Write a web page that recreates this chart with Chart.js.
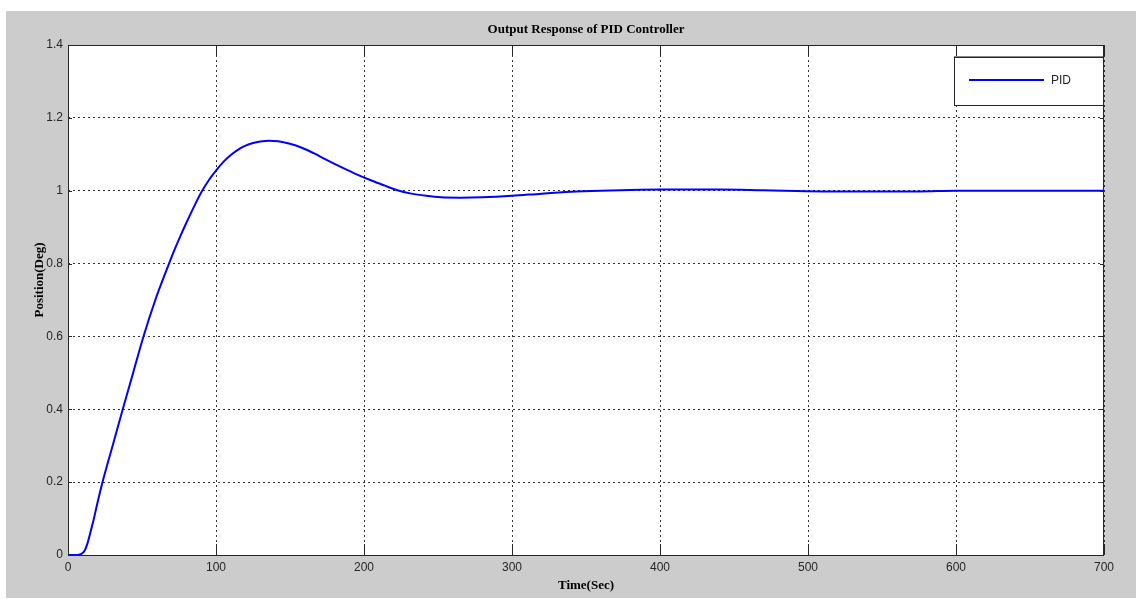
<!DOCTYPE html>
<html>
<head>
<meta charset="utf-8">
<script src="https://cdn.jsdelivr.net/npm/chart.js@4/dist/chart.umd.min.js"></script>
<style>
  html, body { margin: 0; padding: 0; background: #ffffff; }
  canvas { display: block; }
</style>
</head>
<body>
<canvas id="pid" width="1136" height="599"></canvas>
<script>
// step response
const timeSec = [0, 6, 9, 11, 13, 15, 17.8, 20, 23, 30, 37, 44, 51, 59, 64, 68, 72, 76, 80, 85, 90, 95, 100,
  105, 110, 115, 120, 125, 130, 136, 142, 150, 158, 166, 175, 185, 195, 205, 214, 222, 232, 242, 252, 265, 280,
  300, 320, 340, 360, 380, 400, 440, 470, 510, 575, 600, 650, 700];
const positionDeg = [0, 0, 0.003, 0.01, 0.03, 0.06, 0.105, 0.145, 0.195, 0.298, 0.4, 0.5, 0.6, 0.7, 0.755, 0.797, 0.838, 0.876, 0.912, 0.955, 0.995, 1.028, 1.055,
  1.079, 1.098, 1.113, 1.124, 1.131, 1.135, 1.137, 1.136, 1.129, 1.118, 1.103, 1.084, 1.064, 1.045, 1.028, 1.014, 1.002, 0.992, 0.986, 0.982, 0.981, 0.982,
  0.986, 0.992, 0.997, 1.0, 1.002, 1.003, 1.003, 1.001, 0.998, 0.998, 1.0, 1.0, 1.0];
const xTicks = [0, 100, 200, 300, 400, 500, 600, 700];
const yTicks = [0, 0.2, 0.4, 0.6, 0.8, 1, 1.2, 1.4];

const chartTitle = 'Output Response of PID Controller';
const xLabel = 'Time(Sec)';
const yLabel = 'Position(Deg)';
const seriesName = 'PID';

const ink = '#262626';

// figure background, axes box, inner ticks, labels and legend (MATLAB look)
const matlabFrame = {
  id: 'matlabFrame',
  beforeDraw(chart){
    const c = chart.ctx, a = chart.chartArea;
    c.save();
    c.fillStyle = '#ffffff';
    c.fillRect(0, 0, chart.width, chart.height);
    c.fillStyle = '#cccccc';
    c.fillRect(6, 11, chart.width - 6, chart.height - 12);
    c.fillStyle = '#ffffff';
    c.fillRect(a.left, a.top, a.right - a.left, a.bottom - a.top);
    c.restore();
  },
  afterDraw(chart){
    const c = chart.ctx, a = chart.chartArea;
    const xs = chart.scales.x, ys = chart.scales.y;
    let i, p;
    c.save();
    c.strokeStyle = ink;
    c.lineWidth = 1;
    c.setLineDash([]);
    c.strokeRect(a.left + 0.5, a.top + 0.5, a.right - a.left - 1, a.bottom - a.top);

    // ticks point inwards
    c.beginPath();
    for(i = 0; i < xTicks.length; i++){
      p = Math.round(xs.getPixelForValue(xTicks[i])) + 0.5;
      c.moveTo(p, a.bottom); c.lineTo(p, a.bottom - 11);
      c.moveTo(p, a.top); c.lineTo(p, a.top + 11);
    }
    for(i = 0; i < yTicks.length; i++){
      p = Math.round(ys.getPixelForValue(yTicks[i])) + 0.5;
      c.moveTo(a.left, p); c.lineTo(a.left + 4, p);
      c.moveTo(a.right, p); c.lineTo(a.right - 4, p);
    }
    c.stroke();

    // titles
    c.fillStyle = '#000000';
    c.font = 'bold 13px "Liberation Serif"';
    c.textAlign = 'center';
    c.textBaseline = 'middle';
    c.fillText(chartTitle, (a.left + a.right) / 2, 30);
    c.fillText(xLabel, (a.left + a.right) / 2, 586);
    c.save();
    c.translate(40, 280);
    c.rotate(-Math.PI / 2);
    c.fillText(yLabel, 0, 0);
    c.restore();

    // legend box
    c.fillStyle = '#ffffff';
    c.fillRect(954, 57, 149, 48);
    c.strokeStyle = '#888888';
    c.beginPath(); c.moveTo(954, 56.5); c.lineTo(1103, 56.5); c.stroke();
    c.strokeStyle = ink;
    c.strokeRect(954.5, 57.5, 149, 48);
    c.strokeStyle = '#0000ff';
    c.lineWidth = 2;
    c.beginPath(); c.moveTo(969, 80); c.lineTo(1044, 80); c.stroke();
    c.fillStyle = ink;
    c.font = '12px "Liberation Sans"';
    c.textAlign = 'left';
    c.fillText(seriesName, 1051, 81);
    c.restore();
  }
};

new Chart(document.getElementById('pid'), {
  type: 'line',
  data: {
    datasets: [{
      label: seriesName,
      data: timeSec.map((t, i) => ({x: t, y: positionDeg[i]})),
      borderColor: '#0000ff',
      borderWidth: 2,
      pointRadius: 0,
      fill: false,
      cubicInterpolationMode: 'monotone'
    }]
  },
  options: {
    responsive: false,
    animation: false,
    events: [],
    layout: {padding: {top: 45, right: 32, left: 0, bottom: 0}},
    plugins: {legend: {display: false}, title: {display: false}, tooltip: {enabled: false}},
    scales: {
      x: {
        type: 'linear', min: 0, max: 700,
        afterFit(s){ s.height = 44; },
        afterBuildTicks(s){ s.ticks = xTicks.map(v => ({value: v})); },
        ticks: {color: ink, font: {family: 'Liberation Sans', size: 12}, padding: 5, maxRotation: 0, autoSkip: false,
          callback: v => String(v)},
        grid: {color: '#333333', lineWidth: 1, drawTicks: false},
        border: {display: false, dash: [2, 3]}
      },
      y: {
        type: 'linear', min: 0, max: 1.4,
        afterFit(s){ s.width = 68; },
        afterBuildTicks(s){ s.ticks = yTicks.map(v => ({value: v})); },
        ticks: {color: ink, font: {family: 'Liberation Sans', size: 12}, padding: 5, autoSkip: false,
          callback: v => String(Math.round(v * 10) / 10)},
        grid: {color: '#333333', lineWidth: 1, drawTicks: false},
        border: {display: false, dash: [2, 3]}
      }
    }
  },
  plugins: [matlabFrame]
});
</script>
</body>
</html>
